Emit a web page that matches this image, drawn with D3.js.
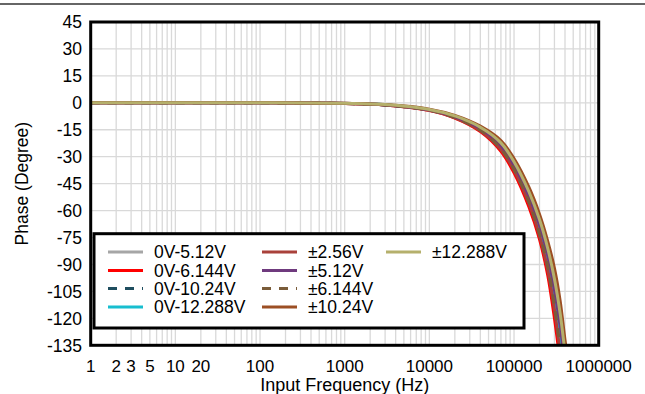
<!DOCTYPE html>
<html>
<head>
<meta charset="utf-8">
<script src="https://cdn.jsdelivr.net/npm/d3@7"></script>
<style>
  body { margin: 0; background: #fff; }
  svg { display: block; font-family: "Liberation Sans", Arial, sans-serif; }
</style>
</head>
<body>
<div id="chart"></div>
<script>
// Data
var freqs = [1, 10, 100, 1000, 3000, 10000, 20000, 40000, 70000, 100000, 150000, 200000, 250000, 300000, 350000, 400000, 450000];

var seriesNames = ["0V-5.12V", "0V-6.144V", "0V-10.24V", "0V-12.288V", "±2.56V", "±5.12V", "±6.144V", "±10.24V", "±12.288V"];
var seriesColors = ["#a6a6a6", "#ff0000", "#1f4e5f", "#17becf", "#a9413b", "#6f3a7e", "#7a5c3a", "#9c4f24", "#b5b06c"];
var seriesDashed = [false, false, true, false, false, false, true, false, false];

var phase0V512 = [0, 0, 0, -0.35, -1.1, -4, -7.9, -14.6, -24.3, -35.5, -53, -70, -87, -107, -128, -150, -170];
var phase0V6144 = [0, 0, 0, -0.4, -1.2, -4.3, -8.5, -16, -27, -39, -58, -76, -96, -120, -144, -165, -185];
var phase0V1024 = [0, 0, 0, -0.4, -1.2, -4.1, -8.1, -15, -25, -36.5, -54.5, -72, -90, -111, -134, -156, -176];
var phase0V12288 = [0, 0, 0, -0.35, -1.1, -4, -8, -14.8, -24.7, -36, -54, -71, -89, -109, -131, -153, -173];
var phasePM256 = [0, 0, 0, -0.4, -1.2, -4.2, -8.3, -15.5, -26, -37.5, -56, -74, -93, -115, -139, -160, -180];
var phasePM512 = [0, 0, 0, -0.3, -1.1, -3.9, -7.7, -14.3, -23.7, -34.7, -52, -68, -85, -104, -124, -146, -166];
var phasePM6144 = [0, 0, 0, -0.4, -1.2, -4.1, -8.2, -15.2, -25.5, -37, -55, -73, -91, -113, -136, -158, -178];
var phasePM1024 = [0, 0, 0, -0.3, -1, -3.5, -7, -13, -21, -31, -47, -62, -77, -92, -110, -132, -150];
var phasePM12288 = [0, 0, 0, -0.3, -1, -3.7, -7.3, -13.6, -22.3, -32.8, -49.5, -65, -81, -98, -117, -139, -158];

var seriesValues = [phase0V512, phase0V6144, phase0V1024, phase0V12288, phasePM256, phasePM512, phasePM6144, phasePM1024, phasePM12288];

var yTicks = [45, 30, 15, 0, -15, -30, -45, -60, -75, -90, -105, -120, -135];
var xTickLabels = [1, 2, 3, 5, 10, 20, 100, 1000, 10000, 100000, 1000000];

var width = 645, height = 394;
var plotLeft = 90.7, plotRight = 598.7, plotTop = 22, plotBottom = 345.3;

var svg = d3.select("#chart").append("svg")
  .attr("width", width)
  .attr("height", height);

// thin rule across the top
svg.append("line")
  .attr("x1", 0).attr("x2", width)
  .attr("y1", 4).attr("y2", 4)
  .style("stroke", "#333")
  .style("stroke-width", 1.5);

var x = d3.scaleLog().domain([1, 1000000]).range([plotLeft, plotRight]);
var y = d3.scaleLinear().domain([-135, 45]).range([plotBottom, plotTop]);

// grid: vertical lines at 1..9 of each decade
var gridX = [];
for (var dec = 1; dec < 1000000; dec *= 10) {
  for (var k = 1; k < 10; k++) gridX.push(dec * k);
}
svg.append("g").selectAll("line")
  .data(gridX)
  .enter().append("line")
  .attr("x1", function(d) { return x(d); })
  .attr("x2", function(d) { return x(d); })
  .attr("y1", plotTop).attr("y2", plotBottom)
  .style("stroke", "#d9d9d9")
  .style("stroke-width", 1.3);

svg.append("g").selectAll("line")
  .data(yTicks)
  .enter().append("line")
  .attr("x1", plotLeft).attr("x2", plotRight)
  .attr("y1", function(d) { return y(d); })
  .attr("y2", function(d) { return y(d); })
  .style("stroke", "#d9d9d9")
  .style("stroke-width", 1.3);

// clip curves to the plot area
svg.append("clipPath").attr("id", "plotClip")
  .append("rect")
  .attr("x", plotLeft).attr("y", plotTop)
  .attr("width", plotRight - plotLeft).attr("height", plotBottom - plotTop);

var line = d3.line()
  .x(function(d) { return x(d[0]); })
  .y(function(d) { return y(d[1]); })
  .curve(d3.curveCatmullRom.alpha(0.5));

var curves = svg.append("g").attr("clip-path", "url(#plotClip)");
seriesNames.forEach(function(name, i) {
  var pts = freqs.map(function(f, j) { return [f, seriesValues[i][j]]; });
  curves.append("path")
    .datum(pts)
    .attr("d", line)
    .style("fill", "none")
    .style("stroke", seriesColors[i])
    .style("stroke-width", 3)
    .style("stroke-dasharray", seriesDashed[i] ? "9,8" : null);
});

// frame
svg.append("rect")
  .attr("x", plotLeft).attr("y", plotTop)
  .attr("width", plotRight - plotLeft).attr("height", plotBottom - plotTop)
  .style("fill", "none")
  .style("stroke", "#000")
  .style("stroke-width", 3);

// y tick labels
svg.append("g").selectAll("text")
  .data(yTicks)
  .enter().append("text")
  .attr("x", 82)
  .attr("y", function(d) { return y(d); })
  .attr("dy", "0.36em")
  .style("text-anchor", "end")
  .style("font-size", "17.5px")
  .style("fill", "#000")
  .text(function(d) { return d; });

// x tick labels
svg.append("g").selectAll("text")
  .data(xTickLabels)
  .enter().append("text")
  .attr("x", function(d) { return x(d); })
  .attr("y", 372)
  .style("text-anchor", "middle")
  .style("font-size", "17px")
  .style("fill", "#000")
  .text(function(d) { return d; });

// axis titles
svg.append("text")
  .attr("x", (plotLeft + plotRight) / 2)
  .attr("y", 391)
  .style("text-anchor", "middle")
  .style("font-size", "18px")
  .text("Input Frequency (Hz)");

svg.append("text")
  .attr("transform", "translate(28," + ((plotTop + plotBottom) / 2) + ") rotate(-90)")
  .style("text-anchor", "middle")
  .style("font-size", "17.5px")
  .text("Phase (Degree)");

// legend
var legX = 94, legY = 233.7, legW = 430, legH = 94.3;
svg.append("rect")
  .attr("x", legX).attr("y", legY)
  .attr("width", legW).attr("height", legH)
  .style("fill", "#fff")
  .style("stroke", "#000")
  .style("stroke-width", 3);

var colX = [108, 262, 386];
var rowY = [252, 270.5, 288.5, 307];
var legendPos = [[0, 0], [0, 1], [0, 2], [0, 3], [1, 0], [1, 1], [1, 2], [1, 3], [2, 0]];

var legend = svg.append("g");
seriesNames.forEach(function(name, i) {
  var cx = colX[legendPos[i][0]], cy = rowY[legendPos[i][1]];
  legend.append("line")
    .attr("x1", cx).attr("x2", cx + 35)
    .attr("y1", cy).attr("y2", cy)
    .style("stroke", seriesColors[i])
    .style("stroke-width", 3)
    .style("stroke-dasharray", seriesDashed[i] ? "9,8" : null);
  legend.append("text")
    .attr("x", cx + 46)
    .attr("y", cy)
    .attr("dy", "0.36em")
    .style("font-size", "17.5px")
    .text(name);
});
</script>
</body>
</html>
